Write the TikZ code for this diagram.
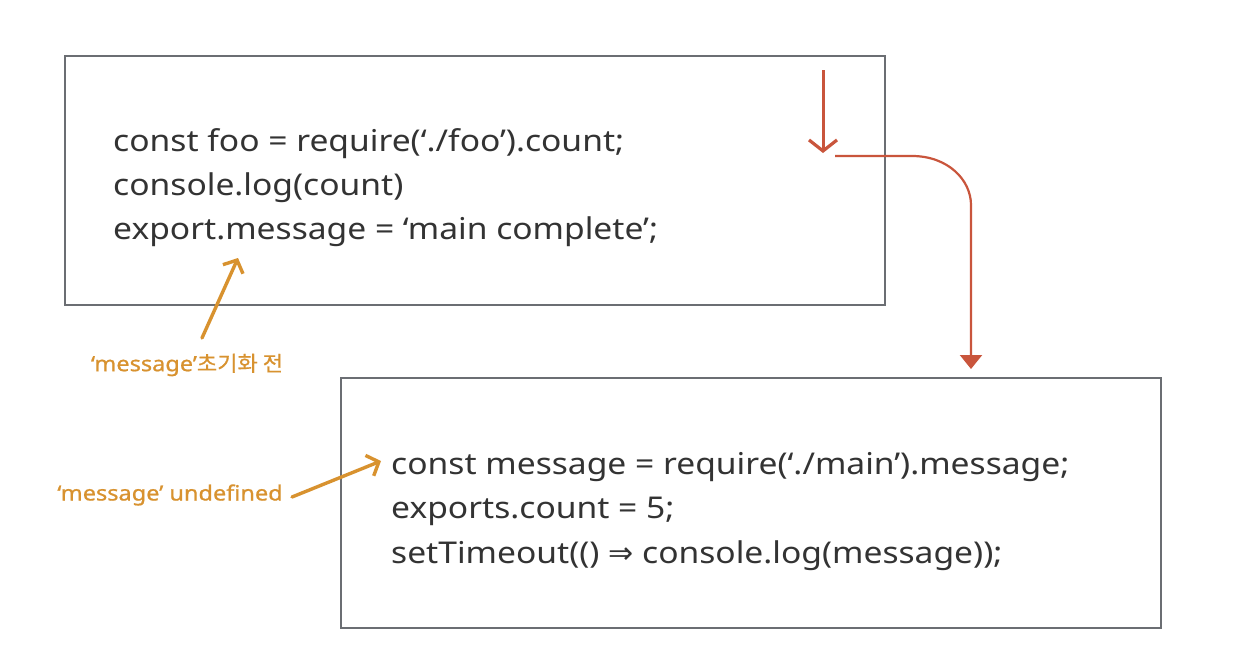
\documentclass[tikz,border=0pt]{standalone}
\usepackage{fontspec}
\setmainfont{Noto Sans}[FakeStretch=1.12]
\newfontfamily\notefont{Noto Sans}[FakeStretch=1.12,FakeBold=0.8]
\newfontfamily\cjk{Noto Sans CJK KR}[FakeStretch=1.05,FakeBold=0.6]
\newfontfamily\symf{DejaVu Sans}
\usetikzlibrary{arrows.meta}
\definecolor{boxgray}{HTML}{6B6E73}
\definecolor{codetxt}{HTML}{333333}
\definecolor{flowred}{HTML}{C9553C}
\definecolor{noteorange}{HTML}{D8922F}
\tikzset{
  codebox/.style={draw=boxgray, line width=1.8pt, fill=white},
  codeline/.style={anchor=base west, inner sep=0pt, text=codetxt, font=\fontsize{30}{36}\selectfont},
  note/.style={inner sep=0pt, text=noteorange, font=\notefont\fontsize{21}{24}\selectfont},
  notearrow/.style={draw=noteorange, line width=3.4pt, line cap=round, -{Straight Barb[length=10pt,width=22pt,line width=3.4pt]}},
  redline/.style={draw=flowred, line width=2.2pt},
}
\begin{document}
\begin{tikzpicture}[x=1pt,y=-1pt]
\useasboundingbox (0,0) rectangle (1234,664);
\fill[white] (0,0) rectangle (1234,664);
% boxes
\draw[codebox] (65,56) rectangle (885,305);
\draw[codebox] (341,378) rectangle (1161,628);
% code text
\node[codeline] (t1) at (113,151) {const foo = require(‘./foo’).count;};
\node[codeline] (t2) at (113,195) {console.log(count)};
\node[codeline] (t3) at (113,239) {export.message = ‘main complete’;};
\node[codeline] (b1) at (391,474) {const message = require(‘./main’).message;};
\node[codeline] (b2) at (391,518) {exports.count = 5;};
\node[codeline] (b3) at (391,563) {setTimeout(() {\symf⇒} console.log(message));};
% red flow
\coordinate (r0) at (823,70);
\coordinate (r1) at (823,153);
\draw[redline, line width=3pt, -{Straight Barb[length=11pt,width=28pt,line width=3.2pt]}] (r0) -- (r1);
\coordinate (s0) at (835,156);
\coordinate (s1) at (971,369);
\draw[redline, -{Triangle[length=14pt,width=22pt]}] (s0) -- (912,156) .. controls (948,156) and (971,180) .. (971,205) -- (s1);
% notes
\node[note] (n1) at (187,365) {‘message’{\cjk 초기화 전}};
\coordinate (n1s) at (202,338);
\coordinate (n1tip) at (238,258);
\draw[notearrow] (n1s) -- (n1tip);
\node[note] (n2) at (170,495) {‘message’ undefined};
\coordinate (n2s) at (292,497);
\coordinate (n2tip) at (381,461);
\draw[notearrow] (n2s) -- (n2tip);
\end{tikzpicture}
\end{document}
